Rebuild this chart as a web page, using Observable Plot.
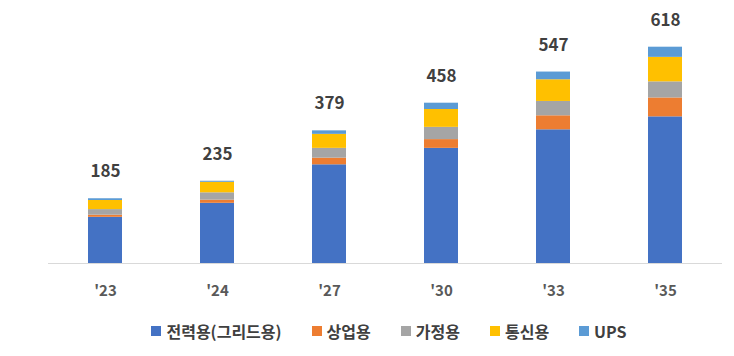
<!DOCTYPE html>
<html>
<head>
<meta charset="utf-8">
<script src="https://cdn.jsdelivr.net/npm/d3@7"></script>
<script src="https://cdn.jsdelivr.net/npm/@observablehq/plot@0.6"></script>
<style>
  body { margin: 0; background: #fff; font-family: "Noto Sans CJK KR", "Noto Sans", sans-serif; }
  #chart { width: 734px; }
  .legend { display: flex; justify-content: center; gap: 30px; padding-top: 11px; font-size: 16px; font-weight: bold; color: #404040; padding-left: 44px; line-height: 20px; }
  .legend span.item { display: flex; align-items: center; }
  .legend i { display: inline-block; width: 10px; height: 10px; margin-right: 5px; }
</style>
</head>
<body>
<div id="chart"></div>
<script>
const years = ["'23", "'24", "'27", "'30", "'33", "'35"];
const series = ["전력용(그리드용)", "상업용", "가정용", "통신용", "UPS"];
const colors = ["#4472C4", "#ED7D31", "#A5A5A5", "#FFC000", "#5B9BD5"];
const grid    = [132, 172, 282, 329, 382, 419];
const comm    = [6, 9, 19, 25, 40, 54];
const home    = [16, 21, 28, 35, 41, 46];
const telecom = [26, 30, 40, 51, 62, 70];
const ups     = [5, 3, 10, 18, 22, 29];
const totals  = [185, 235, 379, 458, 547, 618];

const seriesValues = [grid, comm, home, telecom, ups];
const rows = [];
series.forEach((s, si) => years.forEach((y, yi) => rows.push({year: y, series: s, value: seriesValues[si][yi]})));
const totalRows = years.map((y, i) => ({year: y, total: totals[i]}));

const chart = Plot.plot({
  width: 734,
  height: 310,
  marginLeft: 48,
  marginRight: 12,
  marginTop: 18,
  marginBottom: 47,
  style: {fontFamily: '"Noto Sans CJK KR", "Noto Sans", sans-serif', background: "#fff"},
  x: {domain: years, paddingInner: 0.7, paddingOuter: 0.35, label: null},
  y: {domain: [0, 700], axis: null},
  color: {domain: series, range: colors},
  marks: [
    Plot.barY(rows, {x: "year", y: "value", fill: "series", order: series}),
    Plot.ruleY([0], {stroke: "#d9d9d9", strokeWidth: 1}),
    Plot.text(totalRows, {x: "year", y: "total", text: d => String(d.total), dy: -27, fontSize: 17, fontWeight: "bold", fill: "#404040"}),
    Plot.axisX({tickSize: 0, tickPadding: 22, fontSize: 15, fontWeight: "bold", color: "#595959", label: null})
  ]
});
document.getElementById("chart").appendChild(chart);

const legend = document.createElement("div");
legend.className = "legend";
series.forEach((s, i) => {
  const item = document.createElement("span");
  item.className = "item";
  const sw = document.createElement("i");
  sw.style.background = colors[i];
  item.appendChild(sw);
  item.appendChild(document.createTextNode(s));
  legend.appendChild(item);
});
document.getElementById("chart").appendChild(legend);
</script>
</body>
</html>
